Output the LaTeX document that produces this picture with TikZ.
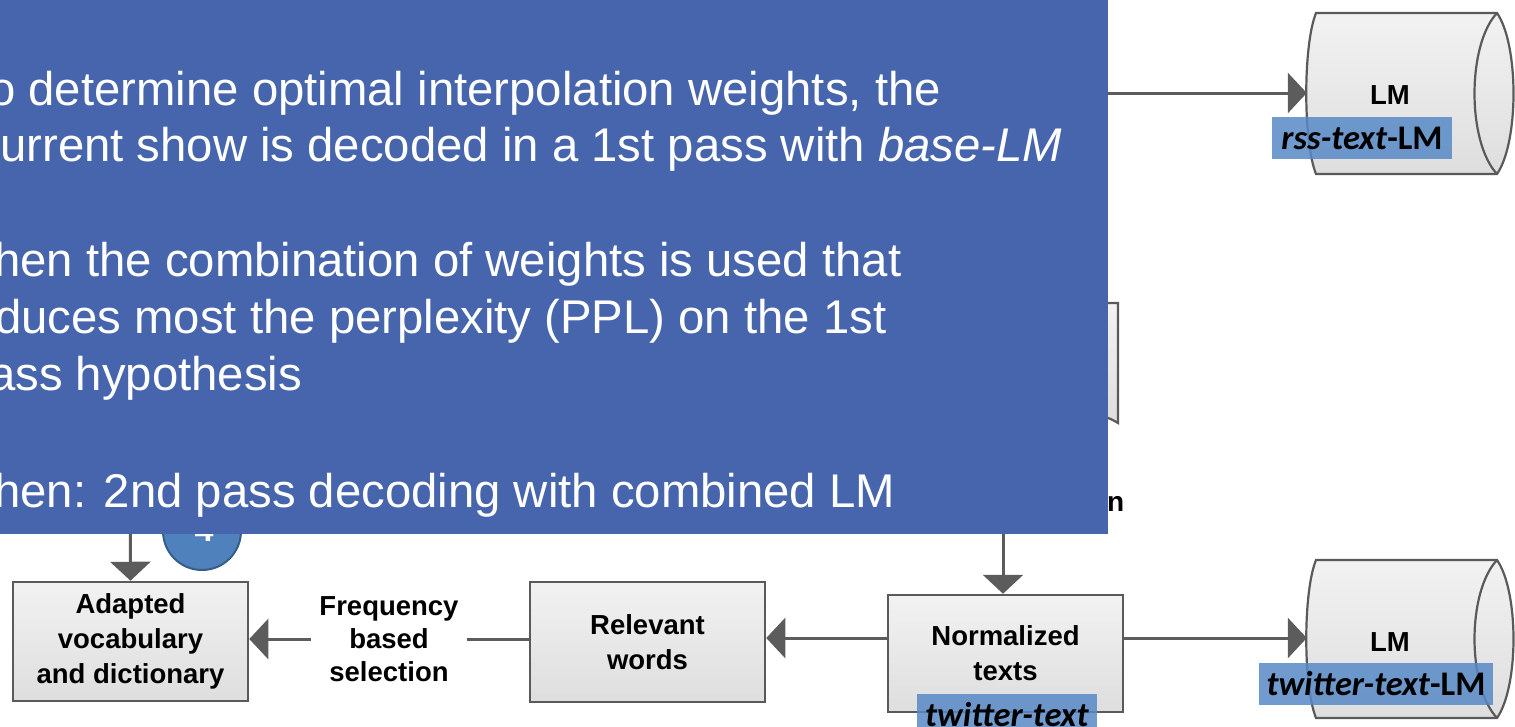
\documentclass[tikz,border=0pt]{standalone}
\usepackage{fontspec}
\setmainfont{Liberation Sans}
\newfontfamily\calfont{Carlito}
\usetikzlibrary{arrows.meta}

\definecolor{panelblue}{RGB}{71,101,172}
\definecolor{linegray}{RGB}{92,92,92}
\definecolor{boxgray}{RGB}{90,90,90}
\definecolor{boxtop}{RGB}{242,242,242}
\definecolor{boxbot}{RGB}{222,222,222}
\definecolor{hlblue}{RGB}{88,138,198}
\definecolor{badgeblue}{RGB}{79,129,189}
\definecolor{badgeedge}{RGB}{56,93,138}

\newcommand\lblfont{\fontsize{27.5}{35}\selectfont\bfseries}
\newcommand\hlfont{\calfont\fontsize{34.5}{36}\selectfont\bfseries}
\newcommand\panelfont{\fontsize{47.3}{55}\selectfont}

\begin{document}
\begin{tikzpicture}[x=1pt,y=-1pt,
  conn/.style={draw=linegray, line width=3pt},
  arr/.style={conn, -{Triangle[length=19pt,width=40pt]}},
  proc/.style={draw=boxgray, line width=2.5pt, top color=boxtop, bottom color=boxbot,
    minimum width=235pt, align=center, font=\lblfont, inner sep=0pt},
  cyl/.style={draw=boxgray, line width=2.2pt, top color=boxtop, bottom color=boxbot},
  cylface/.style={draw=boxgray, line width=2.2pt},
  slot/.style={minimum width=206pt, minimum height=160pt, inner sep=0pt},
  hl/.style={fill=hlblue, fill opacity=0.85, text opacity=1, font=\hlfont,
    minimum height=42pt, inner sep=0pt},
  paneltext/.style={anchor=base west, inner sep=0pt, text=white, font=\panelfont},
]
\useasboundingbox (0,0) rectangle (1515,726);
\clip (0,0) rectangle (1515,726);

% language model stores (cylinders seen from the side)
\path[cyl] (1316,13) -- (1497,13) .. controls (1519,45) and (1519,142) .. (1497,174)
  -- (1316,174) .. controls (1303,142) and (1303,45) .. (1316,13) -- cycle;
\path[cylface] (1497,13) .. controls (1467,45) and (1467,142) .. (1497,174);
\path[cyl] (1316,560) -- (1497,560) .. controls (1519,592) and (1519,686) .. (1497,718)
  -- (1316,718) .. controls (1303,686) and (1303,592) .. (1316,560) -- cycle;
\path[cylface] (1497,560) .. controls (1467,592) and (1467,686) .. (1497,718);

\node[slot] (rssLM) at (1410,93) {};
\node[slot] (twLM) at (1410,638) {};
\node[font=\lblfont] (rssLMlbl) at (1390,95) {LM};
\node[font=\lblfont] (twLMlbl) at (1390,642) {LM};

% partly hidden document on the right of the panel
\path[cyl] (1040,303) -- (1118,303) -- (1118,423)
  .. controls (1113,420) and (1108,417) .. (1100,416) -- (1040,410) -- cycle;
\node[font=\fontsize{28}{30}\selectfont\bfseries, anchor=base west, inner sep=0pt]
  (normlbl) at (1107,511) {n};

% processing boxes
\node[proc, minimum height=119pt] (adapted) at (130.5,641.5)
  {Adapted\\vocabulary\\and dictionary};
\node[proc, minimum height=120pt] (relevant) at (647.5,642) {Relevant\\words};
\node[proc, minimum height=117pt] (norm) at (1005.5,653.5) {Normalized\\texts};

% feeds coming from under the panel
\coordinate (rsssrc) at (1050,93);
\coordinate (adsrc) at (130,480);
\coordinate (normsrc) at (1003,480);

% connectors
\draw[arr] (rsssrc) -- (rssLM.west);
\draw[arr] (adsrc) -- (adapted.north);
\draw[arr] (normsrc) -- (normsrc |- norm.north);
\draw[arr] (norm.east |- twLM.west) -- (twLM.west);
\draw[arr] (norm.west |- 0,638) -- (relevant.east |- 0,638);
\draw[arr] (relevant.west |- 0,639) -- node[fill=white, inner xsep=8pt, inner ysep=2pt,
  align=center, font=\fontsize{27.5}{33}\selectfont\bfseries] (freqlbl)
  {Frequency\\based\\selection} (adapted.east |- 0,639);

% highlighted names
\node[hl, minimum width=180pt] (rsshl) at (1362,138) {\textit{rss-text}-LM};
\node[hl, minimum width=234pt] (twhl) at (1376,684) {\textit{twitter-text}-LM};
\node[hl, minimum width=180pt] (twtexthl) at (1007,715) {\textit{twitter-text}};

% step badge
\node[circle, fill=badgeblue, draw=badgeedge, line width=2pt, minimum size=78pt,
  inner sep=0pt] (badge) at (202,531) {};
\node[anchor=base, text=white, font=\fontsize{34}{36}\selectfont\bfseries, inner sep=0pt]
  (badgenum) at (204,541) {4};

% explanation panel
\fill[panelblue] (0,0) rectangle (1108,534);
\node[paneltext] (p1) at (-11,105) {o determine optimal interpolation weights, the};
\node[paneltext] (p2) at (0,161) {urrent show is decoded in a 1st pass with \textit{base-LM}};
\node[paneltext] (p3) at (-6,276) {hen the combination of weights is used that};
\node[paneltext] (p4) at (-5,333) {duces most the perplexity (PPL) on the 1st};
\node[paneltext] (p5) at (-11,390) {ass hypothesis};
\node[paneltext] (p6) at (-6,507) {hen: 2nd pass decoding with combined LM};
\end{tikzpicture}
\end{document}
